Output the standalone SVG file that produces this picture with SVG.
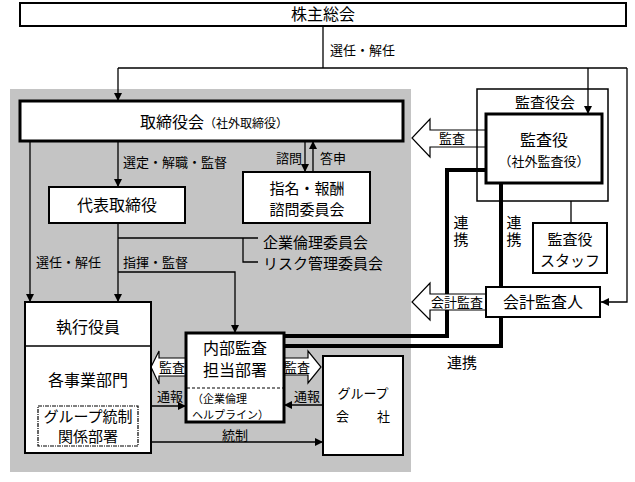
<svg xmlns="http://www.w3.org/2000/svg" width="635" height="482" viewBox="0 0 635 482">
<style>
text{font-family:"Noto Sans CJK JP","Noto Sans CJK SC",sans-serif;fill:#000}
.m{text-anchor:middle}
.b{fill:#fff;stroke:#000;stroke-width:2}
.t{fill:#fff;stroke:#000;stroke-width:3}
.ln{fill:none;stroke:#000;stroke-width:1.3}
.th{fill:none;stroke:#000;stroke-width:4}
.ha{fill:#fff;stroke:#000;stroke-width:1.2}
.s13{font-size:13px}
.s15{font-size:15px}
.s12{font-size:12px}
.s11{font-size:11px}
.v{writing-mode:vertical-rl;font-size:15px;letter-spacing:2px}
</style>
<defs>
<marker id="ah" viewBox="0 0 8 8" refX="8" refY="4" markerWidth="8" markerHeight="8" orient="auto" markerUnits="userSpaceOnUse"><path d="M0,0 L8,4 L0,8 z" fill="#000"/></marker>
</defs>
<rect x="10" y="89" width="401" height="383" fill="#c4c4c4"/>
<g id="connectors">
<path class="ln" d="M323,26 V68"/>
<path class="ln" d="M118,68 H627"/>
<path class="ln" d="M118,68 V101" marker-end="url(#ah)"/>
<path class="ln" d="M588,68 V114" marker-end="url(#ah)"/>
<path class="ln" d="M627,68 V302 H601" marker-end="url(#ah)"/>
<path class="ln" d="M118,141 V187" marker-end="url(#ah)"/>
<path class="ln" d="M30,141 V302" marker-end="url(#ah)"/>
<path class="ln" d="M118,223 V302" marker-end="url(#ah)"/>
<path class="ln" d="M118,238 H258 M243,238 V262 H258"/>
<path class="ln" d="M118,272 H235 V333" marker-end="url(#ah)"/>
<path class="ln" d="M305,141 V172" marker-end="url(#ah)"/>
<path class="ln" d="M313,172 V141" marker-end="url(#ah)"/>
<path class="ln" d="M151,406 H186" marker-end="url(#ah)"/>
<path class="ln" d="M323,405 H284" marker-end="url(#ah)"/>
<path class="ln" d="M138,442 H323" marker-end="url(#ah)"/>
<path class="ln" d="M571,201 V223"/>
<path class="th" d="M486,170 H447 V336 H284"/>
<path class="th" d="M501,183 V346 H284"/>
<polygon class="ha" points="486,130 430,130 430,119 412,138 430,157 430,147 486,147"/>
<text class="s13 m" x="452" y="143">監査</text>
<polygon class="ha" points="486,294 430,294 430,283 412,302 430,320 430,310 486,310"/>
<text class="s13 m" x="457" y="307">会計監査</text>
<polygon class="ha" points="186,358 159,358 159,351 151,367 159,384 159,376 186,376"/>
<text class="s13 m" x="172" y="372">監査</text>
<polygon class="ha" points="284,358 308,358 308,351 321,367 308,383 308,375 284,375"/>
<text class="s13 m" x="297" y="372">監査</text>
<text class="s13" x="330" y="55">選任・解任</text>
<text class="s13" x="123" y="167">選定・解職・監督</text>
<text class="s13" x="302" y="163" text-anchor="end">諮問</text>
<text class="s13" x="320" y="163">答申</text>
<text class="s13" x="36" y="267">選任・解任</text>
<text class="s13" x="123" y="267">指揮・監督</text>
<text class="s15" x="263" y="248">企業倫理委員会</text>
<text class="s15" x="263" y="269">リスク管理委員会</text>
<text class="v" x="461" y="215">連携</text>
<text class="v" x="514" y="215">連携</text>
<text class="s15 m" x="462" y="368">連携</text>
<text class="s13 m" x="170" y="401">通報</text>
<text class="s13 m" x="307" y="401">通報</text>
<text class="s13 m" x="235" y="440">統制</text>
</g>
<g id="kabunushi">
<rect class="b" x="20" y="3" width="606" height="23"/>
<text class="m" x="323" y="20" font-size="16">株主総会</text>
</g>
<g id="torishimariyakukai">
<rect class="t" x="20" y="101" width="383" height="40"/>
<text x="140" y="128"><tspan font-size="16">取締役会</tspan><tspan class="s12">（社外取締役）</tspan></text>
</g>
<g id="daihyo">
<rect class="b" x="49" y="187" width="136" height="36"/>
<text class="m" x="117" y="211" font-size="16">代表取締役</text>
</g>
<g id="shimei">
<rect class="b" x="243" y="172" width="127" height="51"/>
<text class="s15 m" x="307" y="194">指名・報酬</text>
<text class="s15 m" x="307" y="215">諮問委員会</text>
</g>
<g id="shikko">
<rect class="b" x="25" y="302" width="126" height="151"/>
<line x1="25" y1="346" x2="151" y2="346" stroke="#000" stroke-width="1.5"/>
<text class="m" x="88" y="333" font-size="16">執行役員</text>
<text class="m" x="88" y="386" font-size="16">各事業部門</text>
</g>
<g id="group-tosei">
<rect x="38" y="406" width="100" height="40" fill="#fff" stroke="#000" stroke-width="1.2" stroke-dasharray="4,1,1,1"/>
<text class="s15 m" x="88" y="422">グループ統制</text>
<text class="s15 m" x="88" y="442">関係部署</text>
</g>
<g id="naibu">
<rect class="t" x="186" y="333" width="98" height="89"/>
<line x1="187" y1="388" x2="283" y2="388" stroke="#000" stroke-width="1.2" stroke-dasharray="3,2"/>
<text class="m" x="235" y="354" font-size="16">内部監査</text>
<text class="m" x="235" y="376" font-size="16">担当部署</text>
<text class="s11" x="192" y="403">（企業倫理</text>
<text class="s11" x="192" y="419">ヘルプライン）</text>
</g>
<g id="group-kaisha">
<rect class="b" x="323" y="356" width="80" height="99"/>
<text class="s13 m" x="363" y="398">グループ</text>
<text class="s13" x="336" y="421">会</text>
<text class="s13" x="377" y="421">社</text>
</g>
<g id="kansayakukai">
<rect x="477" y="89" width="131" height="112" fill="none" stroke="#000" stroke-width="1.5"/>
<text class="s15 m" x="545" y="108">監査役会</text>
</g>
<g id="kansayaku">
<rect class="t" x="486" y="114" width="116" height="69"/>
<text class="m" x="544" y="146" font-size="16">監査役</text>
<text class="s13 m" x="544" y="166">（社外監査役）</text>
</g>
<g id="staff">
<rect class="b" x="533" y="223" width="74" height="50"/>
<text class="s15 m" x="570" y="245">監査役</text>
<text class="s15 m" x="570" y="266">スタッフ</text>
</g>
<g id="kaikei">
<rect class="b" x="486" y="287" width="114" height="30"/>
<text class="m" x="543" y="308" font-size="16">会計監査人</text>
</g>
</svg>
